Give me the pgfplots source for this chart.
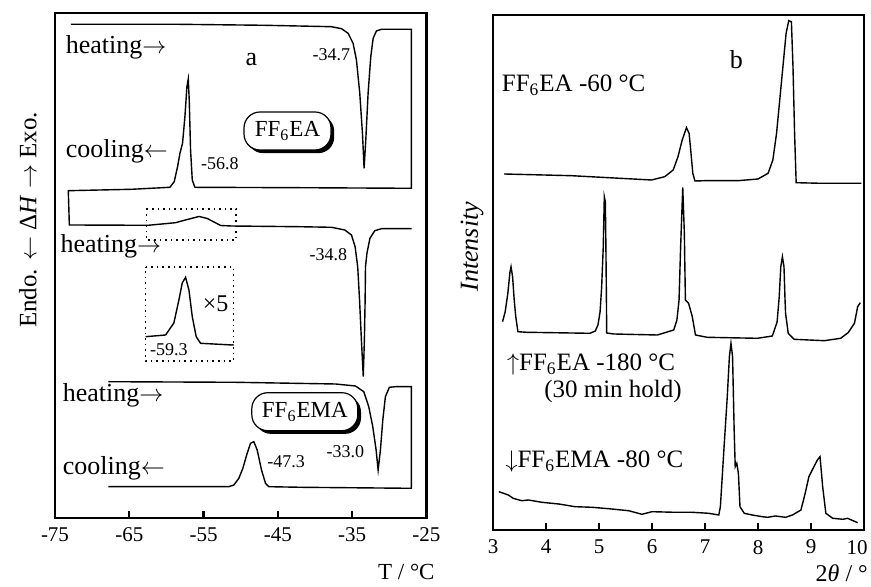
\documentclass[border=0pt]{standalone}
\usepackage{fontspec}
\setmainfont{Liberation Serif}
\usepackage{pgfplots}
\pgfplotsset{compat=1.18}
\usetikzlibrary{shadows}
\newcommand{\fs}[1]{\fontsize{#1}{#1}\selectfont}
\begin{document}
\begin{tikzpicture}
\useasboundingbox (0,0) rectangle (435.5pt,293.5pt);
\pgfplotsset{
  dscstyle/.style={
    scale only axis, clip=false,
    ytick=\empty, xtick pos=lower, tick align=inside,
    major tick length=3.5pt,
    every tick/.style={black, line width=1.1pt},
    axis line style={line width=1.3pt},
    xticklabel style={font=\fs{10.5}, yshift=-1.5pt},
  },
  curve/.style={black, line width=0.7pt, mark=none, sharp plot},
}
% ---------------- panel a ----------------
\begin{axis}[dscstyle,
  at={(27.5pt,34.5pt)}, anchor=south west,
  width=185.7pt, height=252.5pt,
  xmin=-75, xmax=-25, ymin=69, ymax=574,
  xtick={-75,-65,-55,-45,-35,-25},
  xticklabels={-75,-65,-55,-45,-35,-25},
  xlabel={T / °C},
  xlabel style={at={(rel axis cs:0.946,-0.107)}, anchor=center, font=\fs{11.5}},
  ylabel={Endo. $\leftarrow$ Δ\textit{H} $\rightarrow$ Exo.},
  ylabel style={at={(rel axis cs:-0.0727,0.59)}, anchor=center, font=\fs{12.5}},
]
\addplot[curve] coordinates {
(-72.85,562.7) (-58.41,562.7) (-46.75,561.7) (-37.78,560.3) (-36.43,558.3)
(-35.54,553.7) (-34.87,543.7) (-34.42,527) (-33.97,493.7) (-33.61,453.7)
(-33.39,418.7) (-33.16,447) (-32.85,493.7) (-32.49,530.3) (-32.17,548.7)
(-31.73,556) (-31.05,557.7) (-27.02,557.7) (-27.02,398.7) (-42.26,399.3)
(-56.17,399.7) (-56.52,407) (-56.75,437) (-56.93,487) (-57.06,508)
(-57.24,500.3) (-57.51,470.3) (-57.83,443.7) (-58.18,433.7) (-58.50,420.3)
(-58.95,405.3) (-59.53,399.7) (-64.69,397.7) (-73.21,396.3) (-73.07,362)
(-62.44,361.7) (-58.77,364.3) (-57.2,367.5) (-55.6,370.5) (-54.5,368.5)
(-53.6,365) (-52.7,361.5) (-51.23,361) (-42.26,360.3) (-37.78,359.7)
(-35.99,357) (-35.09,352) (-34.6,340.3) (-34.25,320.3) (-34.0,287)
(-33.75,247) (-33.5,210.3) (-33.35,247) (-33.25,287) (-33.2,320.3)
(-33.0,334) (-32.6,348.7) (-31.95,356.3) (-31.05,358.3) (-27.0,358.3)
};
% inset x5
\addplot[curve] coordinates {
(-62.8,250.3) (-60.11,252) (-59.0,264) (-58.32,287) (-57.87,304)
(-57.42,309.7) (-56.97,297) (-56.52,270.3) (-55.99,250.3) (-55.4,243.7)
(-51.14,242) (-50.95,242.3)
};
% dotted boxes
\addplot[black, line width=0.8pt, dotted, mark=none] coordinates {
(-62.7,378) (-50.6,378) (-50.6,347) (-62.7,347) (-62.7,378)};
\addplot[black, line width=0.8pt, dotted, mark=none] coordinates {
(-62.8,320) (-50.95,320) (-50.95,226) (-62.8,226) (-62.8,320)};
% FF6EMA
\addplot[curve] coordinates {
(-67.83,205.3) (-50.70,204.7) (-37.24,203) (-34.55,201) (-33.43,195.3)
(-32.76,180.3) (-32.22,160.3) (-31.77,137) (-31.50,117) (-31.19,137)
(-30.87,167) (-30.52,190.3) (-29.99,199.7) (-29.17,200.3) (-27.02,200.3)
(-27.02,98.7) (-41.73,99.7) (-46.21,100.3) (-46.66,103.7) (-47.2,117)
(-47.78,137) (-48.23,145.3) (-48.68,143.7) (-49.13,133.7) (-49.71,118.7)
(-50.25,108.7) (-50.92,102) (-51.59,100.3) (-67.83,100.3)
};
\node[anchor=west, inner sep=0, font=\fs{13}] at (axis cs:-73.6,540) {heating$\rightarrow$};
\node[font=\fs{13}] at (axis cs:-48.55,527) {a};
\node[font=\fs{9}] at (axis cs:-37.8,532) {-34.7};
\node[anchor=west, inner sep=0, font=\fs{13}] at (axis cs:-73.6,435.3) {cooling$\leftarrow$};
\node[font=\fs{9}] at (axis cs:-52.8,423.7) {-56.8};
\node[anchor=west, inner sep=0, font=\fs{13}] at (axis cs:-74.3,340.3) {heating$\rightarrow$};
\node[font=\fs{9}] at (axis cs:-38.2,332) {-34.8};
\node[font=\fs{12}] at (axis cs:-53.39,283.7) {×5};
\node[font=\fs{9}] at (axis cs:-59.66,237) {-59.3};
\node[anchor=west, inner sep=0, font=\fs{13}] at (axis cs:-74.0,192) {heating$\rightarrow$};
\node[anchor=west, inner sep=0, font=\fs{13}] at (axis cs:-74.0,118.7) {cooling$\leftarrow$};
\node[font=\fs{9}] at (axis cs:-43.88,125.3) {-47.3};
\node[font=\fs{9}] at (axis cs:-35.9,135.3) {-33.0};
\node[draw, fill=white, line width=0.6pt, rounded corners=8pt,
  minimum width=43.5pt, minimum height=19pt, inner sep=0, font=\fs{11.5},
  general shadow={fill=black, shadow xshift=1.6pt, shadow yshift=-1.6pt}]
  at (axis cs:-43.7,456) {FF\textsubscript{6}EA};
\node[draw, fill=white, line width=0.6pt, rounded corners=8pt,
  minimum width=53pt, minimum height=19pt, inner sep=0, font=\fs{11.5},
  general shadow={fill=black, shadow xshift=1.6pt, shadow yshift=-1.6pt}]
  at (axis cs:-41.37,175.3) {FF\textsubscript{6}EMA};
\end{axis}
% ---------------- panel b ----------------
\begin{axis}[dscstyle,
  at={(246.5pt,28.5pt)}, anchor=south west,
  width=185.5pt, height=257.5pt,
  xmin=3, xmax=10, ymin=57, ymax=572,
  xtick={3,4,5,6,7,8,9,10},
  xticklabels={3,4,5,6,7,8,9,\hspace*{-7pt}10},
  xlabel={2\textit{θ} / °},
  xlabel style={at={(rel axis cs:0.94,-0.0835)}, anchor=center, font=\fs{12}},
  ylabel={\textit{Intensity}},
  ylabel style={at={(rel axis cs:-0.0566,0.55)}, anchor=center, font=\fs{13}},
]
\addplot[curve] coordinates {
(3.21,413) (4.48,411.3) (5.99,407) (6.24,410.3) (6.40,417) (6.49,430.3)
(6.57,447) (6.65,459.3) (6.70,453.7) (6.73,437) (6.77,413.7) (6.81,406)
(6.99,406.3) (7.62,406.3) (8.00,408) (8.19,413.7) (8.28,427) (8.35,453.7)
(8.41,487) (8.47,520.3) (8.53,553.7) (8.58,566.3) (8.63,565.3) (8.66,520.3)
(8.69,453.7) (8.72,404.3) (9.19,403.7) (9.95,403.7)
};
\addplot[curve] coordinates {
(3.18,265.3) (3.23,275.3) (3.28,293.7) (3.32,315) (3.34,320.3) (3.37,310)
(3.40,287) (3.43,270) (3.47,255.3) (3.64,254.7) (4.83,253.7) (4.93,256)
(4.98,262) (5.02,275) (5.05,300) (5.08,340) (5.10,390.3) (5.12,385)
(5.13,340) (5.14,287) (5.145,254) (5.28,253) (6.10,252) (6.41,257)
(6.47,267) (6.51,287) (6.54,340) (6.58,399.7) (6.61,354) (6.63,287)
(6.69,283.7) (6.76,270.3) (6.82,252) (7.04,249.7) (7.99,248.7) (8.27,251)
(8.36,265) (8.40,290) (8.43,320.3) (8.46,330.3) (8.49,320.3) (8.51,287)
(8.52,273.7) (8.57,253.7) (8.68,247.7) (9.25,246.3) (9.56,248.7) (9.70,254.3)
(9.82,263.7) (9.88,280.3) (9.93,284.3)
};
\addplot[curve] coordinates {
(3.11,95.3) (3.29,92) (3.38,88.7) (3.54,86.3) (3.67,87) (3.92,84.7)
(4.24,83) (4.55,80.3) (4.87,79.7) (5.18,78.3) (5.56,76.3) (5.81,72.7)
(6.00,75.3) (6.44,74.7) (6.76,74.7) (7.07,73.7) (7.26,72) (7.29,80.3)
(7.36,140.3) (7.42,190.3) (7.46,230.3) (7.49,243.7) (7.52,230.3) (7.55,157)
(7.57,120.3) (7.60,123.7) (7.63,113.7) (7.66,80.3) (7.74,73.7) (7.89,72)
(8.08,70.3) (8.18,69.7) (8.33,71) (8.52,69.7) (8.65,72) (8.81,77)
(8.89,93.7) (8.96,110.3) (9.04,118.7) (9.12,127) (9.17,130.3) (9.22,100.3)
(9.28,73.7) (9.41,68.7) (9.60,67.7) (9.69,68.7) (9.88,64.3)
};
\node[font=\fs{13}] at (axis cs:7.59,527) {b};
\node[anchor=west, inner sep=0, font=\fs{12.5}] at (axis cs:3.16,502) {FF\textsubscript{6}EA -60 °C};
\node[anchor=west, inner sep=0, font=\fs{12.5}] at (axis cs:3.26,222) {$\uparrow$FF\textsubscript{6}EA -180 °C};
\node[anchor=west, inner sep=0, font=\fs{12.5}] at (axis cs:3.96,195.3) {(30 min hold)};
\node[anchor=west, inner sep=0, font=\fs{12.5}] at (axis cs:3.23,125.3) {$\downarrow$FF\textsubscript{6}EMA -80 °C};
\end{axis}
\end{tikzpicture}
\end{document}
